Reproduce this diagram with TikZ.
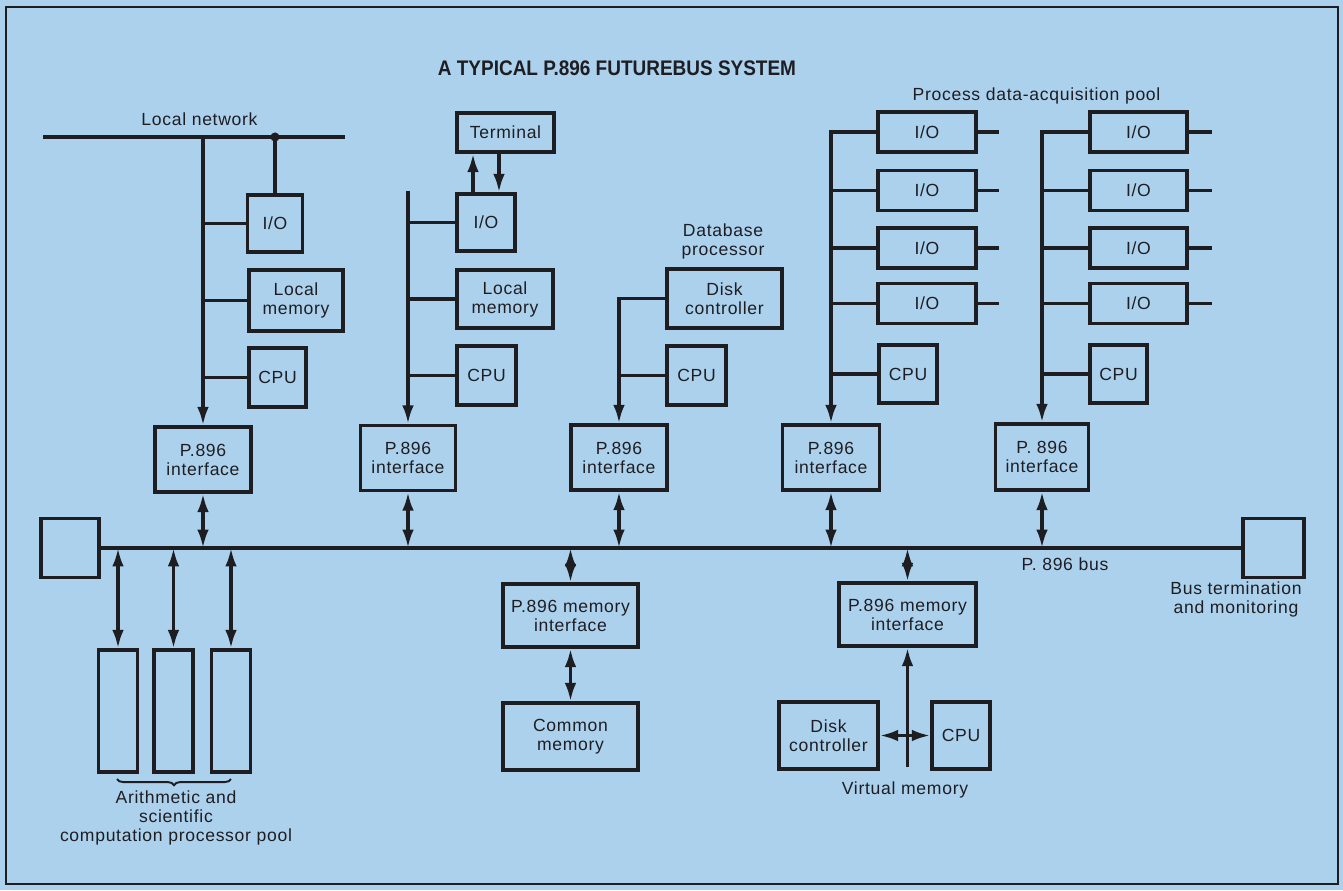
\documentclass[tikz,border=0pt]{standalone}
\usepackage{fontspec}
\setmainfont{Liberation Sans}[LetterSpace=4]
\newfontfamily\headfont{Liberation Sans}[FakeStretch=0.9]
\usepackage{tikz}
\usetikzlibrary{shapes, arrows.meta, decorations.pathreplacing}
\definecolor{paper}{RGB}{172,209,237}
\definecolor{ink}{RGB}{30,30,34}
\tikzstyle{unit}   = [rectangle, draw=ink, text=ink, align=center, inner sep=0pt, line width=1.9pt, font=\fontsize{10}{10.8}\selectfont]
\tikzstyle{lbl}    = [text=ink, align=center, inner sep=0pt, font=\fontsize{10}{10.8}\selectfont]
\tikzstyle{wire}   = [draw=ink, line width=1.9pt]
\tikzstyle{single} = [wire, -{Latex[length=10.5pt, width=6.6pt]}]
\tikzstyle{twoway} = [wire, {Latex[length=10.5pt, width=6.6pt]}-{Latex[length=10.5pt, width=6.6pt]}]

\begin{document}
\begin{tikzpicture}[x=0.02cm, y=-0.02cm]
    \fill[paper] (0,0) rectangle (1343,890);
    \draw[ink, line width=1.5pt] (6,7) rectangle (1338,884);
    \node[lbl, font=\headfont\bfseries\fontsize{12}{14}\selectfont] (title) at (617,68) {A TYPICAL P.896 FUTUREBUS SYSTEM};

    % local network and first station
    \node[lbl] (netlbl) at (199.5,119) {Local network};
    \coordinate (netw) at (43,137);
    \coordinate (nete) at (345,137);
    \coordinate (net1) at (203,137);
    \coordinate (netdot) at (275,137);
    \path[wire] (netw) -- (nete);
    \fill[ink] (netdot) circle (2.6pt);
    \node[unit, minimum width=1.1cm, minimum height=1.14cm] (io1) at (275,223.5) {I/O};
    \node[unit, minimum width=1.88cm, minimum height=1.22cm] (mem1) at (296,300.5) {Local\\memory};
    \node[unit, minimum width=1.14cm, minimum height=1.18cm] (cpu1) at (277.5,377.5) {CPU};
    \node[unit, minimum width=1.92cm, minimum height=1.3cm] (if1) at (203,459.5) {P.896\\interface};
    \path[single] (net1) -- (if1.north);
    \path[wire] (netdot) -- (io1.north);
    \path[wire] (io1.west) -- (io1.west -| net1);
    \path[wire] (mem1.west) -- (mem1.west -| net1);
    \path[wire] (cpu1.west) -- (cpu1.west -| net1);

    % terminal station
    \node[unit, minimum width=1.94cm, minimum height=0.78cm] (term) at (505.5,132.5) {Terminal};
    \node[unit, minimum width=1.16cm, minimum height=1.14cm] (io2) at (486,222.5) {I/O};
    \node[unit, minimum width=1.92cm, minimum height=1.16cm] (mem2) at (505,299) {Local\\memory};
    \node[unit, minimum width=1.18cm, minimum height=1.18cm] (cpu2) at (486.5,375.5) {CPU};
    \node[unit, minimum width=1.9cm, minimum height=1.3cm] (if2) at (408,458) {P.896\\interface};
    \coordinate (top2) at (408,191);
    \path[single] (top2) -- (if2.north);
    \path[wire] (io2.west) -- (io2.west -| top2);
    \path[wire] (mem2.west) -- (mem2.west -| top2);
    \path[wire] (cpu2.west) -- (cpu2.west -| top2);
    \path[single] ([xshift=-0.26cm]io2.north) -- ([xshift=-0.26cm]io2.north |- term.south);
    \path[single] ([xshift=0.26cm]io2.north |- term.south) -- ([xshift=0.26cm]io2.north);

    % database processor
    \node[lbl] (dblbl) at (723,241) {Database\\processor};
    \node[unit, minimum width=2.3cm, minimum height=1.18cm] (disk1) at (724.5,298.5) {Disk\\controller};
    \node[unit, minimum width=1.18cm, minimum height=1.18cm] (cpu3) at (696.5,375.5) {CPU};
    \node[unit, minimum width=1.92cm, minimum height=1.3cm] (if3) at (619,457.5) {P.896\\interface};
    \path[single] (disk1.west) -| (if3.north);
    \path[wire] (cpu3.west) -- (cpu3.west -| if3.north);

    % process data-acquisition pool
    \node[lbl] (pdlbl) at (1036.5,96) {Process data-acquisition pool};
    \node[unit, minimum width=1.16cm, minimum height=1.16cm] (cpu4) at (908,374) {CPU};
    \node[unit, minimum width=1.94cm, minimum height=1.3cm] (if4) at (831,457.5) {P.896\\interface};
    \node[unit, minimum width=1.14cm, minimum height=1.16cm] (cpu5) at (1118.5,374) {CPU};
    \node[unit, minimum width=1.86cm, minimum height=1.32cm] (if5) at (1042,457) {P. 896\\interface};
    \foreach \y [count=\i] in {132,190.5,248,303.5} {
        \node[unit, minimum width=1.96cm, minimum height=0.8cm] (ioa\i) at (927,\y) {I/O};
        \node[unit, minimum width=1.94cm, minimum height=0.8cm] (iob\i) at (1138.5,\y) {I/O};
        \path[wire] (ioa\i.east) -- ++(21,0);
        \path[wire] (iob\i.east) -- ++(23,0);
    }
    \path[single] (ioa1.west) -| (if4.north);
    \path[single] (iob1.west) -| (if5.north);
    \foreach \i in {2,3,4} {
        \path[wire] (ioa\i.west) -- (ioa\i.west -| if4.north);
        \path[wire] (iob\i.west) -- (iob\i.west -| if5.north);
    }
    \path[wire] (cpu4.west) -- (cpu4.west -| if4.north);
    \path[wire] (cpu5.west) -- (cpu5.west -| if5.north);

    % the bus
    \node[unit, minimum width=1.16cm, minimum height=1.18cm] (lterm) at (70,548) {};
    \node[unit, minimum width=1.22cm, minimum height=1.18cm] (rterm) at (1273.5,548) {};
    \path[wire] (lterm.east) -- (rterm.west);
    \node[lbl] (buslbl) at (1065,564) {P. 896 bus};
    \node[lbl] (rtlbl) at (1236,599) {Bus termination\\and monitoring};
    \foreach \n in {1,...,5}
        \path[twoway] (if\n.south) -- (if\n.south |- lterm.east);

    % arithmetic pool
    \foreach \x [count=\i] in {118,173.5,231} {
        \node[unit, minimum width=0.78cm, minimum height=2.44cm] (alu\i) at (\x,711) {};
        \path[twoway] (alu\i.north |- lterm.east) -- (alu\i.north);
    }
    \draw[ink, line width=1.1pt, decorate, decoration={brace, mirror, amplitude=3.5pt}] (117,779) -- (231,779);
    \node[lbl] (alulbl) at (176,818) {Arithmetic and\\scientific\\computation processor pool};

    % common memory
    \node[unit, minimum width=2.7cm, minimum height=1.26cm] (memif1) at (570.5,615.5) {P.896 memory\\interface};
    \node[unit, minimum width=2.7cm, minimum height=1.34cm] (common) at (570.5,736.5) {Common\\memory};
    \path[twoway] (memif1.north |- lterm.east) -- (memif1.north);
    \path[twoway] (memif1.south) -- (common.north);

    % virtual memory
    \node[unit, minimum width=2.74cm, minimum height=1.26cm] (memif2) at (907.5,614.5) {P.896 memory\\interface};
    \node[unit, minimum width=1.98cm, minimum height=1.34cm] (disk2) at (828.5,735.5) {Disk\\controller};
    \node[unit, minimum width=1.16cm, minimum height=1.34cm] (cpu6) at (961,735.5) {CPU};
    \coordinate (vmfoot) at (907.5,767);
    \path[twoway] (memif2.north |- lterm.east) -- (memif2.north);
    \path[single] (vmfoot) -- (memif2.south);
    \path[twoway] (disk2.east) -- (cpu6.west);
    \node[lbl] (vmlbl) at (905,790) {Virtual memory};
\end{tikzpicture}
\end{document}
